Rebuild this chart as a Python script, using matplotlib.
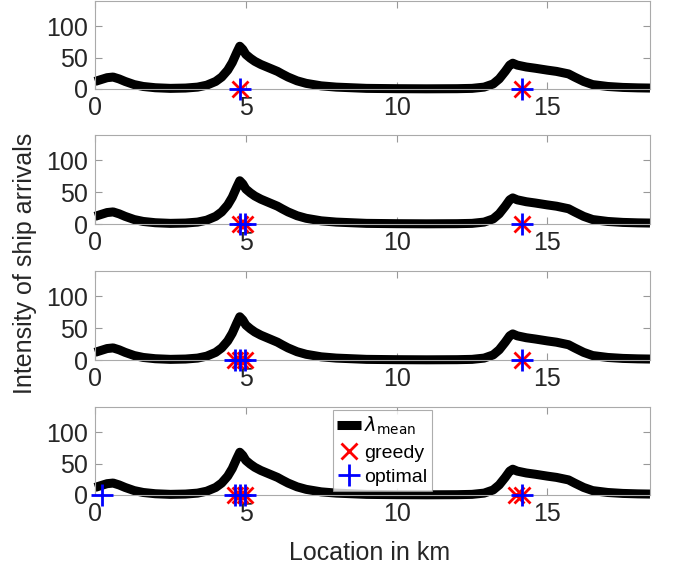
import numpy as np
import matplotlib.pyplot as plt

plt.rcParams['font.family'] = ['Liberation Sans', 'DejaVu Sans']

# mean arrival intensity along the route
loc_km = [0, 0.2, 0.4, 0.6, 0.8, 1.0, 1.3, 1.6, 2.0, 2.5, 3.0, 3.4, 3.7, 4.0,
          4.2, 4.4, 4.55, 4.7, 4.8, 4.9, 5.0, 5.15, 5.3, 5.5, 5.7, 5.9, 6.05,
          6.2, 6.4, 6.7, 7.0, 7.5, 8.0, 9.0, 10, 11, 12, 12.5, 12.9, 13.2,
          13.4, 13.6, 13.75, 13.85, 14.0, 14.3, 14.6, 15.0, 15.3, 15.5, 15.7,
          15.9, 16.2, 16.5, 17.0, 17.5, 18.0, 18.4]
lam_mean = [12, 15, 18, 19, 16, 12, 7, 4, 2, 1, 1.5, 3, 6, 12,
            19, 30, 42, 58, 68, 63, 55, 49, 44, 39, 35, 31, 28,
            24, 19, 13, 9, 5, 3, 1, 0.5, 0.3, 0.5, 1, 3, 8,
            16, 28, 38, 41, 38, 35, 33, 30, 28, 26, 24,
            19, 12, 7, 4, 2.5, 1.8, 1.5]

# sensor locations per panel
greedy = [
    [4.8, 14.15],
    [4.8, 4.97, 14.15],
    [4.64, 4.8, 4.97, 14.15],
    [4.64, 4.8, 4.97, 13.95, 14.15],
]
optimal = [
    [4.8, 14.15],
    [4.8, 4.97, 14.15],
    [4.64, 4.8, 4.97, 14.15],
    [0.22, 4.64, 4.8, 4.97, 14.15],
]

xticks = [0, 5, 10, 15]
yticks = [0, 50, 100]

fig = plt.figure(figsize=(6.73, 5.73), dpi=100)
W, H = 673, 573
left, right = 95, 650
tops = [1, 135, 271, 407]
bottoms = [89, 224, 360, 495]

axes = []
for i in range(4):
    ax = fig.add_axes([left / W, 1 - bottoms[i] / H, (right - left) / W,
                       (bottoms[i] - tops[i]) / H])
    l1, = ax.plot(loc_km, lam_mean, color='k', lw=6.5, clip_on=False,
                  solid_joinstyle='round', solid_capstyle='butt', zorder=2)
    l2, = ax.plot(greedy[i], np.zeros(len(greedy[i])), 'x', color='red',
                  ms=12, mew=2, clip_on=False, zorder=3)
    l3, = ax.plot(optimal[i], np.zeros(len(optimal[i])), '+', color='blue',
                  ms=16, mew=2, clip_on=False, zorder=4)
    ax.set_xlim(0, 18.4)
    ax.set_ylim(0, 140)
    ax.set_xticks(xticks)
    ax.set_yticks(yticks)
    ax.tick_params(direction='in', length=5, width=0.8, color='#999999',
                   labelsize=18, labelcolor='#262626', top=True, right=True,
                   pad=5)
    for s in ax.spines.values():
        s.set_color('#aaaaaa')
        s.set_linewidth(0.8)
    axes.append(ax)

leg = axes[3].legend([l1, l2, l3], [r'$\lambda_{\mathrm{mean}}$', 'greedy', 'optimal'],
                     loc='lower left', bbox_to_anchor=(0.428, 0.045),
                     fontsize=14, frameon=True, fancybox=False,
                     edgecolor='#999999', handlelength=1.2, handletextpad=0.15,
                     borderpad=0.25, labelspacing=0.35, borderaxespad=0)
leg.get_frame().set_linewidth(0.8)
leg.set_zorder(10)

fig.text(25 / W, 1 - 263 / H, 'Intensity of ship arrivals', rotation=90,
         ha='center', va='center', fontsize=18, color='#262626')
fig.text(370 / W, 1 - 553 / H, 'Location in km', ha='center', va='center',
         fontsize=18, color='#262626')

fig.savefig('out.png', dpi=100)
